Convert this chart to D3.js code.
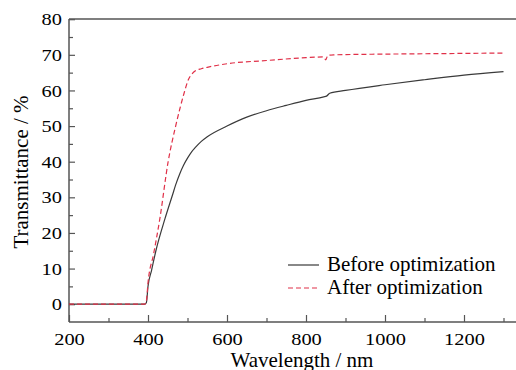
<!DOCTYPE html>
<html><head><meta charset="utf-8">
<script src="https://cdn.jsdelivr.net/npm/d3@7"></script>
<style>body{margin:0;background:#fff}svg{display:block}text{font-family:"Liberation Serif","Times New Roman",serif;fill:#000}</style>
</head><body><svg id="c" width="516" height="370"></svg>
<script>
const beforeWl = [200,300,392,396,400,409,420,443,463,470,480,490,500,510,520,535,550,600,650,700,750,800,845,852,860,900,1000,1100,1200,1300];
const beforeT  = [0,0,0,0.5,5,9.5,15,24,31,33.5,36.5,39,41,42.7,44,45.7,47,50,52.5,54.3,55.8,57.2,58.2,58.4,59.2,60,61.6,63,64.3,65.3];
const afterWl  = [200,300,392,396,400,414,430,451,470,481,492,502,511,520,535,550,600,700,800,845,850,855,870,1000,1100,1200,1300];
const afterT   = [0,0,0,1,6,14,24,40,50,55,59.5,63,64.6,65.5,66.1,66.5,67.5,68.4,69.2,69.4,68.6,69.8,70,70.2,70.3,70.4,70.5];
const xTicks = [200,400,600,800,1000,1200];
const yTicks = [0,10,20,30,40,50,60,70,80];
const seriesNames = ["Before optimization","After optimization"];

const svg = d3.select("#c");
const x = d3.scaleLinear().domain([200,1300]).range([69,503.5]);
const y = d3.scaleLinear().domain([-5,80]).range([322,19.2]);
const axisColor = "#555";

svg.append("line").attr("x1",69).attr("x2",516).attr("y1",19).attr("y2",19).attr("stroke",axisColor).attr("stroke-width",1.5);

const gx = svg.append("g").attr("transform","translate(0,322)");
gx.call(d3.axisBottom(x).tickValues(d3.range(300,1400,200)).tickSize(-4).tickFormat(""));
gx.call(g=>g.select(".domain").remove());
const gx2 = svg.append("g").attr("transform","translate(0,322)");
gx2.call(d3.axisBottom(x).tickValues(xTicks).tickSize(-7).tickPadding(11).tickFormat(d3.format("d")));
gx2.select(".domain").attr("d","M69,0H516");
const gy = svg.append("g").attr("transform","translate(69,0)");
gy.call(d3.axisLeft(y).tickValues(d3.range(5,80,10)).tickSize(-4).tickFormat(""));
gy.call(g=>g.select(".domain").remove());
const gy2 = svg.append("g").attr("transform","translate(69,0)");
gy2.call(d3.axisLeft(y).tickValues(yTicks).tickSize(-6).tickPadding(7));
gy2.select(".domain").attr("d","M0,19V322");
svg.selectAll(".tick line").attr("stroke",axisColor).attr("stroke-width",1.2);
svg.selectAll(".domain").attr("stroke",axisColor).attr("stroke-width",1.5);
svg.selectAll(".tick text").attr("font-size",17.5).attr("fill","#000")
  .style("font-family","'Liberation Serif',serif")
  .attr("textLength",function(){return this.textContent.length*10.2;})
  .attr("lengthAdjust","spacingAndGlyphs");

const line = d3.line().x(d=>x(d[0])).y(d=>y(d[1])).curve(d3.curveMonotoneX);
svg.append("path").datum(beforeWl.map((w,i)=>[w,beforeT[i]])).attr("d",line)
  .attr("fill","none").attr("stroke","#3a3a3a").attr("stroke-width",1.2);
svg.append("path").datum(afterWl.map((w,i)=>[w,afterT[i]])).attr("d",line)
  .attr("fill","none").attr("stroke","#e03048").attr("stroke-width",1.2).attr("stroke-dasharray","5,3");

const lg = svg.append("g");
[["#3a3a3a",null],["#e03048","5,3"]].forEach((s,i)=>{
  const yy = 265 + i*23;
  lg.append("line").attr("x1",288).attr("x2",319).attr("y1",yy).attr("y2",yy)
    .attr("stroke",s[0]).attr("stroke-width",1.2).attr("stroke-dasharray",s[1]);
  lg.append("text").attr("x",327).attr("y",yy+6).attr("font-size",21).text(seriesNames[i]);
});

svg.append("text").attr("x",302).attr("y",366.5).attr("text-anchor","middle").attr("font-size",21).text("Wavelength / nm");
svg.append("text").attr("transform","translate(27.5,172) rotate(-90)").attr("text-anchor","middle").attr("font-size",21).text("Transmittance / %");
</script></body></html>
